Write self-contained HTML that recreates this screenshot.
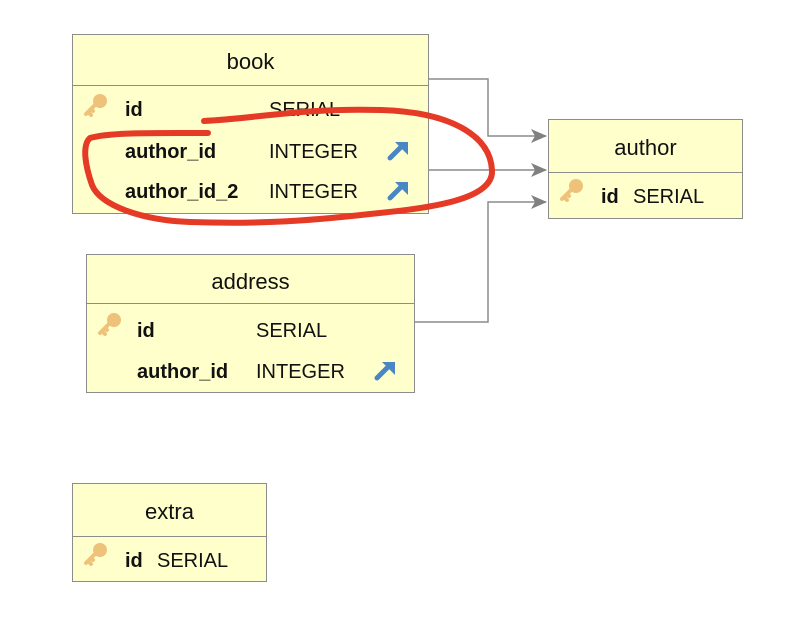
<!DOCTYPE html>
<html><head><style>
body{margin:0;width:794px;height:620px;background:#fff;font-family:"Liberation Sans",Arial,sans-serif;position:relative;overflow:hidden}
.t{position:absolute;background:#ffffcc;border:1.5px solid #8c8c8c;box-sizing:border-box}
.h{position:absolute;left:0;right:0;top:0;border-bottom:1.5px solid #8c8c8c;text-align:center;font-size:22px;color:#111}
.r{position:absolute;font-size:20px;color:#111;white-space:nowrap}
.b{font-weight:bold}
.k,.u{position:absolute}
</style></head><body>
<svg width="0" height="0" style="position:absolute">
<defs>
<g id="key"><circle cx="17" cy="8" r="7" fill="#eec27a"/><path d="M12,12 L3,21 M5,19 L8,22 M8,16 L10,18" stroke="#eec27a" stroke-width="4" stroke-linecap="round" fill="none"/></g>
<g id="fk"><path d="M3,19 L14,8" stroke="#4a86c4" stroke-width="5" stroke-linecap="round"/><path d="M8,3 L21,3 L21,16 Z" fill="#4a86c4"/></g>
</defs></svg>
<svg width="794" height="620" style="position:absolute;left:0;top:0">
<defs><marker id="a" markerWidth="16" markerHeight="14" refX="15" refY="7" orient="auto" markerUnits="userSpaceOnUse"><path d="M0,0 L16,7 L0,14 L4,7 Z" fill="#808080"/></marker></defs>
<g stroke="#8c8c8c" stroke-width="1.5" fill="none">
<path d="M428,79 H488 V136 H546" marker-end="url(#a)"/>
<path d="M428,170 H546" marker-end="url(#a)"/>
<path d="M414,322 H488 V202 H546" marker-end="url(#a)"/>
</g>
</svg>
<div class="t" style="left:72px;top:34px;width:357px;height:180px">
<div class="h" style="height:50px;line-height:54px">book</div>
<svg class="k" style="left:10px;top:58px" width="26" height="26"><use href="#key"/></svg>
<div class="r b" style="left:52px;top:64px">id</div><div class="r" style="left:196px;top:64px">SERIAL</div>
<div class="r b" style="left:52px;top:106px">author_id</div><div class="r" style="left:196px;top:106px">INTEGER</div>
<svg class="u" style="left:314px;top:104px" width="24" height="24"><use href="#fk"/></svg>
<div class="r b" style="left:52px;top:146px">author_id_2</div><div class="r" style="left:196px;top:146px">INTEGER</div>
<svg class="u" style="left:314px;top:144px" width="24" height="24"><use href="#fk"/></svg>
</div>
<div class="t" style="left:548px;top:119px;width:195px;height:100px">
<div class="h" style="height:52px;line-height:56px">author</div>
<svg class="k" style="left:10px;top:58px" width="26" height="26"><use href="#key"/></svg>
<div class="r b" style="left:52px;top:66px">id</div><div class="r" style="left:84px;top:66px">SERIAL</div>
</div>
<div class="t" style="left:86px;top:254px;width:329px;height:139px">
<div class="h" style="height:48px;line-height:54px">address</div>
<svg class="k" style="left:10px;top:57px" width="26" height="26"><use href="#key"/></svg>
<div class="r b" style="left:50px;top:65px">id</div><div class="r" style="left:169px;top:65px">SERIAL</div>
<div class="r b" style="left:50px;top:106px">author_id</div><div class="r" style="left:169px;top:106px">INTEGER</div>
<svg class="u" style="left:287px;top:104px" width="24" height="24"><use href="#fk"/></svg>
</div>
<div class="t" style="left:72px;top:483px;width:195px;height:99px">
<div class="h" style="height:52px;line-height:56px">extra</div>
<svg class="k" style="left:10px;top:58px" width="26" height="26"><use href="#key"/></svg>
<div class="r b" style="left:52px;top:66px">id</div><div class="r" style="left:84px;top:66px">SERIAL</div>
</div>
<svg width="794" height="620" style="position:absolute;left:0;top:0">
<path d="M204,121 C260,118 300,108 380,110 C450,112 490,135 492,170 C494,200 430,208 370,214 C300,222 250,224 190,222 C140,220 100,205 92,185 C85,165 82,145 90,138 C110,132 160,133 208,133" stroke="#e53a26" stroke-width="6" fill="none" stroke-linecap="round"/>
</svg>
</body></html>
